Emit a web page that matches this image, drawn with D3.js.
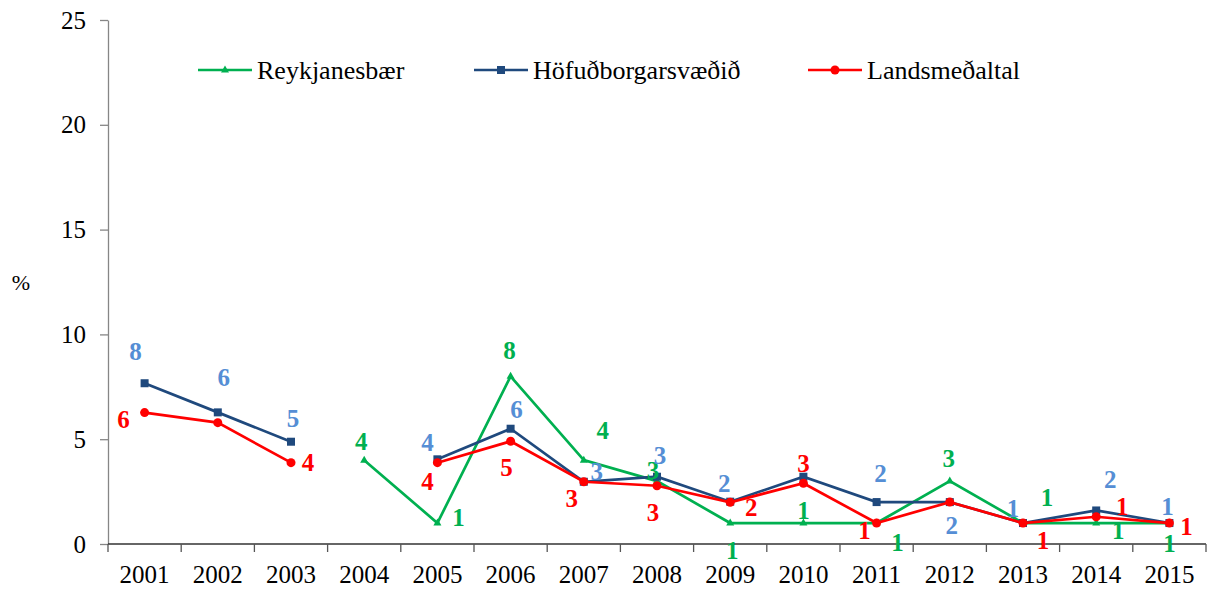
<!DOCTYPE html>
<html>
<head>
<meta charset="utf-8">
<script src="https://cdnjs.cloudflare.com/ajax/libs/d3/7.8.5/d3.min.js"></script>
<style>
  body { margin: 0; background: #fff; }
  svg { display: block; font-family: "Liberation Serif", "Times New Roman", serif; }
</style>
</head>
<body>
<div id="chart"></div>
<script>
var years = ["2001","2002","2003","2004","2005","2006","2007","2008","2009","2010","2011","2012","2013","2014","2015"];
var yTicks = [0, 5, 10, 15, 20, 25];

var reykjanesbaer = [null, null, null, 4.0, 1.0, 8.0, 4.0, 3.0, 1.0, 1.0, 1.0, 3.0, 1.0, 1.0, 1.0];
var hofudborg = [7.67, 6.28, 4.88, null, 4.04, 5.5, 2.97, 3.21, 2.02, 3.21, 2.0, 2.0, 1.0, 1.6, 1.0];
var landsmedaltal = [6.27, 5.79, 3.88, null, 3.88, 4.9, 2.97, 2.78, 1.99, 2.9, 1.0, 2.0, 1.0, 1.3, 1.0];

// where each data label sits relative to its point (null = no label)
var offReyk = [null, null, null, [-3,-19], [21,-6], [-1,-26], [19,-30], [-4,-11], [2,27], [0,-13], [21,19], [-1,-23], [24,-26], [22,7], [0,20]];
var offHof = [[-9,-32], [6,-35], [2,-23], null, [-10,-17], [6,-19], [13,-10], [3,-21], [-6,-18], null, [4,-29], [2,23], [-10,-15], [14,-31], [-2,-17]];
var offLands = [[-21,7], null, [17,0], null, [-10,19], [-4,26], [-12,17], [-4,27], [21,5], [0,-20], [-12,7], null, [20,17], [26,-10], [17,3]];

var width = 1216, height = 592;
var mLeft = 108, mRight = 1206, mTop = 20, mBottom = 544;

var svg = d3.select("#chart").append("svg")
    .attr("width", width)
    .attr("height", height);

var x = d3.scaleBand().domain(years).range([mLeft, mRight]).padding(0);
var y = d3.scaleLinear().domain([0, 25]).range([mBottom, mTop]);

// y axis
var yAxis = svg.append("g")
    .attr("transform", "translate(" + mLeft + ",0)")
    .call(d3.axisLeft(y).tickValues(yTicks).tickSize(8).tickPadding(14).tickSizeOuter(0));
yAxis.select(".domain").attr("stroke", "#868686").attr("stroke-width", 1.3);
yAxis.selectAll(".tick line").attr("stroke", "#868686").attr("stroke-width", 1.3);
yAxis.selectAll(".tick text")
    .attr("font-size", 25)
    .attr("font-family", "Liberation Serif")
    .attr("fill", "#000");

// x axis
svg.append("line")
    .attr("x1", mLeft).attr("x2", mRight)
    .attr("y1", mBottom).attr("y2", mBottom)
    .attr("stroke", "#333").attr("stroke-width", 1.3);

var bounds = years.map(function(d){ return x(d); }).concat([x(years[years.length-1]) + x.bandwidth()]);
svg.selectAll("line.xtick")
    .data(bounds)
    .enter()
    .append("line")
    .attr("class", "xtick")
    .attr("x1", function(d){ return d; })
    .attr("x2", function(d){ return d; })
    .attr("y1", mBottom)
    .attr("y2", mBottom + 8)
    .attr("stroke", "#555").attr("stroke-width", 1.3);

svg.selectAll("text.xlab")
    .data(years)
    .enter()
    .append("text")
    .attr("class", "xlab")
    .attr("x", function(d){ return x(d) + x.bandwidth() / 2; })
    .attr("y", mBottom + 39)
    .attr("text-anchor", "middle")
    .attr("font-size", 25)
    .text(function(d){ return d; });

svg.append("text")
    .attr("x", 21)
    .attr("y", 290)
    .attr("text-anchor", "middle")
    .attr("font-size", 22)
    .text("%");

var series = [
  {name: "Reykjanesbær", values: reykjanesbaer, offsets: offReyk, color: "#00B050", labelColor: "#00B050", marker: "triangle"},
  {name: "Höfuðborgarsvæðið", values: hofudborg, offsets: offHof, color: "#1F497D", labelColor: "#558ED5", marker: "square"},
  {name: "Landsmeðaltal", values: landsmedaltal, offsets: offLands, color: "#FF0000", labelColor: "#FF0000", marker: "circle"}
];

var cx = function(i){ return x(years[i]) + x.bandwidth() / 2; };

var line = d3.line()
    .defined(function(d){ return d != null; })
    .x(function(d, i){ return cx(i); })
    .y(function(d){ return y(d); });

function drawMarker(g, type, color, px, py) {
  if (type === "square") {
    g.append("rect").attr("x", px - 4).attr("y", py - 4).attr("width", 8).attr("height", 8).attr("fill", color);
  } else if (type === "circle") {
    g.append("circle").attr("cx", px).attr("cy", py).attr("r", 4.5).attr("fill", color);
  } else {
    g.append("path").attr("d", "M" + px + "," + (py - 4.5) + "L" + (px + 4) + "," + (py + 2.5) + "L" + (px - 4) + "," + (py + 2.5) + "Z").attr("fill", color);
  }
}

// lines + markers
series.forEach(function(s){
  var g = svg.append("g");
  g.append("path")
      .datum(s.values)
      .attr("d", line)
      .attr("fill", "none")
      .attr("stroke", s.color)
      .attr("stroke-width", 2.7);
  s.values.forEach(function(v, i){
    if (v == null) return;
    drawMarker(g, s.marker, s.color, cx(i), y(v));
  });
});

// data labels
series.forEach(function(s){
  s.values.forEach(function(v, i){
    var o = s.offsets[i];
    if (v == null || !o) return;
    svg.append("text")
        .attr("x", cx(i) + o[0])
        .attr("y", y(v) + o[1])
        .attr("dy", "0.34em")
        .attr("text-anchor", "middle")
        .attr("font-size", 25)
        .attr("font-weight", "bold")
        .attr("fill", s.labelColor)
        .text(Math.round(v));
  });
});

// legend
var legendX = [198, 474, 808];
series.forEach(function(s, k){
  var g = svg.append("g");
  var lx = legendX[k];
  g.append("line")
      .attr("x1", lx).attr("x2", lx + 54)
      .attr("y1", 70).attr("y2", 70)
      .attr("stroke", s.color).attr("stroke-width", 2.7);
  drawMarker(g, s.marker, s.color, lx + 27, 70);
  g.append("text")
      .attr("x", lx + 59)
      .attr("y", 79)
      .attr("font-size", 26)
      .text(s.name);
});
</script>
</body>
</html>
